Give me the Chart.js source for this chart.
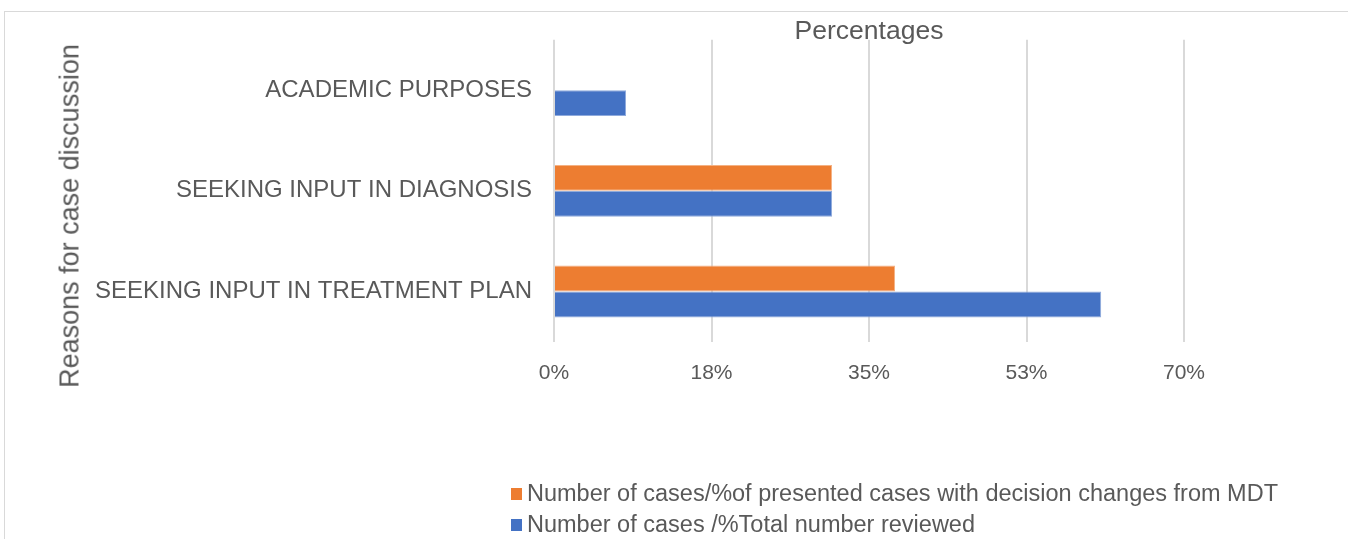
<!DOCTYPE html>
<html>
<head>
<meta charset="utf-8">
<script src="https://cdn.jsdelivr.net/npm/chart.js@4.4.0/dist/chart.umd.min.js"></script>
<style>
  html, body { margin: 0; padding: 0; background: #fff; overflow: hidden; }
  #wrap { position: relative; width: 1348px; height: 539px; }
  #frame { position: absolute; left: 4px; top: 11px; width: 1400px; height: 600px;
           border: 1px solid #d9d9d9; box-sizing: border-box; }
  canvas { position: absolute; left: 0; top: 0; }
  #ytitle { position: absolute; left: 70px; top: 216px; white-space: nowrap;
            transform: translate(-50%, -50%) rotate(-90deg);
            font: 27px "Liberation Sans", Arial, sans-serif; color: #595959; }
  #legend { position: absolute; left: 511px; top: 478px;
            font: 23.5px "Liberation Sans", Arial, sans-serif; color: #595959; }
  .item { display: flex; align-items: center; height: 31px; }
  .sw { width: 11px; height: 12px; margin-right: 5px; }
</style>
</head>
<body>
<div id="wrap">
  <div id="frame"></div>
  <canvas id="barChart" width="1348" height="539"></canvas>
  <div id="ytitle">Reasons for case discussion</div>
  <div id="legend"></div>
</div>
<script>
// --- Data ---
const categories = [
  "ACADEMIC PURPOSES",
  "SEEKING INPUT IN DIAGNOSIS",
  "SEEKING INPUT IN TREATMENT PLAN"
];
const changedPct = [null, 30.9, 37.9];   // % of presented cases with decision changes
const reviewedPct = [8.0, 30.9, 60.8];   // % of total number reviewed
const xTicks = [0, 17.5, 35, 52.5, 70];
const seriesNames = [
  "Number of cases/%of presented cases with decision changes from MDT",
  "Number of cases /%Total number reviewed"
];
const seriesColors = ["#ed7d31", "#4472c4"];
const seriesBorders = ["#f4b183", "#8faadc"];

const textColor = "#595959";
const fontFamily = '"Liberation Sans", Arial, sans-serif';

const ctx = document.getElementById('barChart').getContext('2d');
new Chart(ctx, {
  type: 'bar',
  data: {
    labels: categories,
    datasets: [changedPct, reviewedPct].map((vals, i) => ({
      label: seriesNames[i],
      data: vals,
      backgroundColor: seriesColors[i],
      borderColor: seriesBorders[i],
      borderWidth: 1,
      categoryPercentage: 0.515,
      barPercentage: 1
    }))
  },
  options: {
    indexAxis: 'y',
    responsive: false,
    animation: false,
    layout: { padding: { top: 16, right: 164, bottom: 134, left: 0 } },
    plugins: {
      legend: { display: false },
      tooltip: { enabled: false },
      title: {
        display: true,
        text: 'Percentages',
        fullSize: false,
        color: textColor,
        font: { family: fontFamily, size: 26.5, weight: 'normal', lineHeight: 1.2 },
        padding: { top: 0, bottom: -8 }
      }
    },
    scales: {
      x: {
        min: 0,
        max: 70,
        afterBuildTicks: (scale) => { scale.ticks = xTicks.map(v => ({ value: v })); },
        grid: { color: "#d9d9d9", lineWidth: 2, drawTicks: false },
        border: { display: false },
        ticks: {
          color: textColor,
          padding: 19,
          font: { family: fontFamily, size: 21 },
          callback: (v) => Math.round(v) + '%'
        }
      },
      y: {
        grid: { display: false, drawTicks: false },
        border: { display: false },
        afterFit: (scale) => { scale.width = 554; },
        ticks: {
          color: textColor,
          padding: 22,
          font: { family: fontFamily, size: 24 }
        }
      }
    }
  }
});

// Legend stacked vertically, orange first
const legend = document.getElementById('legend');
seriesNames.forEach((name, i) => {
  legend.innerHTML += `
    <div class="item">
      <span class="sw" style="background:${seriesColors[i]}"></span>
      <span>${name}</span>
    </div>`;
});
</script>
</body>
</html>
